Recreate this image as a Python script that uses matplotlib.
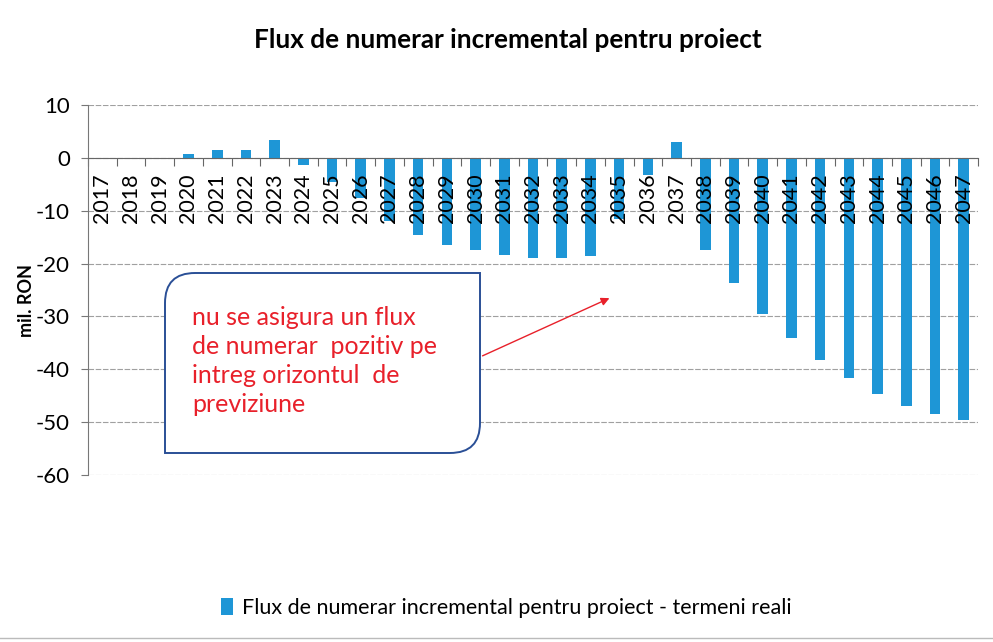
import matplotlib
matplotlib.use('Agg')
import matplotlib.pyplot as plt
from matplotlib.path import Path
from matplotlib.patches import PathPatch
import numpy as np

plt.rcParams['font.family'] = ['Lato', 'DejaVu Sans']
plt.rcParams['axes.unicode_minus'] = False

years = [str(y) for y in range(2017, 2048)]
flux = [0.0, 0.0, 0.0, 0.8, 1.4, 1.4, 3.4, -1.3, -4.5, -7.5,
        -12.0, -14.5, -16.5, -17.5, -18.4, -18.9, -18.9, -18.6, -11.5, -3.2,
        3.1, -17.5, -23.6, -29.5, -34.0, -38.3, -41.7, -44.6, -46.9, -48.5,
        -49.6]
yticks = [10, 0, -10, -20, -30, -40, -50, -60]

title = 'Flux de numerar incremental pentru proiect'
series_name = 'Flux de numerar incremental pentru proiect - termeni reali'
note = 'nu se asigura un flux\nde numerar  pozitiv pe\nintreg orizontul  de\npreviziune'

BLUE = '#1e96d6'
RED = '#e8202a'
GRID = '#a0a0a0'

fig = plt.figure(figsize=(9.93, 6.42), dpi=100)
ax = fig.add_axes([0.0886, 0.26, 0.8964, 0.5764])

x = np.arange(len(years))
ax.bar(x, flux, width=0.37, color=BLUE, zorder=2, label=series_name)

ax.set_xlim(-0.5, len(years) - 0.5)
ax.set_ylim(-60, 10)
ax.set_yticks(yticks)
ax.yaxis.grid(True, color=GRID, linewidth=0.8, linestyle=(0, (5, 1.5)))
ax.set_axisbelow(True)
ax.tick_params(axis='y', labelsize=16, length=5, color='#777777', pad=8)

for s in ['top', 'right']:
    ax.spines[s].set_visible(False)
ax.spines['left'].set_color('#777777')
ax.spines['bottom'].set_position(('data', 0))
ax.spines['bottom'].set_color('#666666')
ax.spines['bottom'].set_zorder(3)
ax.set_xticks(np.arange(-0.5, len(years), 1.0))
ax.set_xticklabels([])
ax.tick_params(axis='x', length=6, color='#666666', direction='out')

for i, yr in enumerate(years):
    ax.annotate(yr, (i, 0), xytext=(0, -11), textcoords='offset points',
                rotation=90, ha='center', va='top', fontsize=15.5, zorder=4)

fig.text(27 / 993, 1 - 300 / 642, 'mil. RON', rotation=90, ha='center',
         va='center', fontsize=13, fontweight='bold')

fig.text(0.511, 0.937, title, ha='center', va='center', fontsize=18.8,
         fontweight='bold')

# annotation box: rounded top-left and bottom-right corners
x0, x1 = 165 / 993, 480 / 993
y0, y1 = 1 - 453 / 642, 1 - 273 / 642
rx, ry = 30 / 993, 30 / 642
verts = [(x0 + rx, y1), (x1, y1), (x1, y0 + ry), (x1, y0), (x1 - rx, y0),
         (x0, y0), (x0, y1 - ry), (x0, y1), (x0 + rx, y1), (x0 + rx, y1)]
codes = [Path.MOVETO, Path.LINETO, Path.LINETO, Path.CURVE3, Path.CURVE3,
         Path.LINETO, Path.LINETO, Path.CURVE3, Path.CURVE3, Path.CLOSEPOLY]
box = PathPatch(Path(verts, codes), transform=fig.transFigure,
                facecolor='white', edgecolor='#2a4f96', linewidth=1.4, zorder=5)
fig.add_artist(box)
fig.text(192 / 993, 1 - 361 / 642, note, ha='left', va='center', fontsize=18,
         color=RED, linespacing=1.32, zorder=6)

ax.annotate('', xy=(612 / 993, 1 - 297 / 642), xytext=(480 / 993, 1 - 357 / 642),
            xycoords='figure fraction', textcoords='figure fraction',
            arrowprops=dict(arrowstyle='-|>', color=RED, lw=1.0,
                            mutation_scale=12), zorder=6)

fig.legend(loc='center', bbox_to_anchor=(0.51, 1 - 608 / 642), frameon=False,
           fontsize=15.5, handlelength=0.55, handleheight=0.8, handletextpad=0.4)

fig.add_artist(plt.Line2D([0, 1], [1 - 638 / 642] * 2, color='#bbbbbb',
                          linewidth=1.0, transform=fig.transFigure))

fig.savefig('out.png', dpi=100)
